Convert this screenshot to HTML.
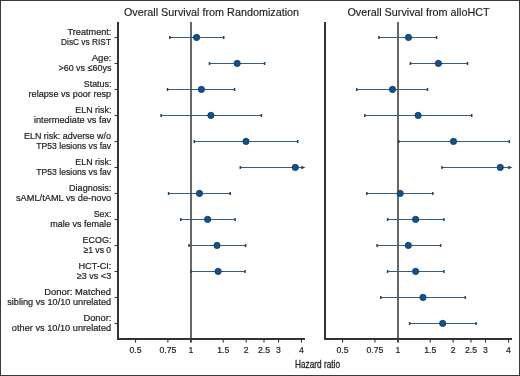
<!DOCTYPE html><html><head><meta charset="utf-8"><style>html,body{margin:0;padding:0;background:#fff;}svg{display:block;will-change:transform;} text{font-family:"Liberation Sans",sans-serif;fill:#1c1c1c;stroke:#1c1c1c;stroke-width:0.2px;}</style></head><body>
<svg width="520" height="376" viewBox="0 0 520 376">
<rect x="0.5" y="0.5" width="519" height="375" fill="#fff" stroke="#3a3a3a" stroke-width="1"/>
<text x="211.5" y="16" font-size="10.8" text-anchor="middle" style="stroke-width:0.15px">Overall Survival from Randomization</text>
<line x1="191.0" y1="22.0" x2="191.0" y2="342.6" stroke="#676767" stroke-width="2"/>
<path d="M118.0 22.0 V339.0 H305.0" fill="none" stroke="#333" stroke-width="2"/>
<line x1="114.5" y1="37.5" x2="118.0" y2="37.5" stroke="#333" stroke-width="1.1"/>
<line x1="114.5" y1="63.5" x2="118.0" y2="63.5" stroke="#333" stroke-width="1.1"/>
<line x1="114.5" y1="89.5" x2="118.0" y2="89.5" stroke="#333" stroke-width="1.1"/>
<line x1="114.5" y1="115.5" x2="118.0" y2="115.5" stroke="#333" stroke-width="1.1"/>
<line x1="114.5" y1="141.5" x2="118.0" y2="141.5" stroke="#333" stroke-width="1.1"/>
<line x1="114.5" y1="167.5" x2="118.0" y2="167.5" stroke="#333" stroke-width="1.1"/>
<line x1="114.5" y1="193.5" x2="118.0" y2="193.5" stroke="#333" stroke-width="1.1"/>
<line x1="114.5" y1="219.5" x2="118.0" y2="219.5" stroke="#333" stroke-width="1.1"/>
<line x1="114.5" y1="245.5" x2="118.0" y2="245.5" stroke="#333" stroke-width="1.1"/>
<line x1="114.5" y1="271.5" x2="118.0" y2="271.5" stroke="#333" stroke-width="1.1"/>
<line x1="114.5" y1="297.5" x2="118.0" y2="297.5" stroke="#333" stroke-width="1.1"/>
<line x1="114.5" y1="323.5" x2="118.0" y2="323.5" stroke="#333" stroke-width="1.1"/>
<line x1="135.54" y1="339.0" x2="135.54" y2="342.6" stroke="#333" stroke-width="1.1"/>
<text x="135.5" y="353.3" font-size="8.7" text-anchor="middle">0.5</text>
<line x1="167.89" y1="339.0" x2="167.89" y2="342.6" stroke="#333" stroke-width="1.1"/>
<text x="167.9" y="353.3" font-size="8.7" text-anchor="middle">0.75</text>
<line x1="190.85" y1="339.0" x2="190.85" y2="342.6" stroke="#333" stroke-width="1.1"/>
<text x="190.8" y="353.3" font-size="8.7" text-anchor="middle">1</text>
<line x1="223.21" y1="339.0" x2="223.21" y2="342.6" stroke="#333" stroke-width="1.1"/>
<text x="223.2" y="353.3" font-size="8.7" text-anchor="middle">1.5</text>
<line x1="246.16" y1="339.0" x2="246.16" y2="342.6" stroke="#333" stroke-width="1.1"/>
<text x="246.2" y="353.3" font-size="8.7" text-anchor="middle">2</text>
<line x1="263.97" y1="339.0" x2="263.97" y2="342.6" stroke="#333" stroke-width="1.1"/>
<text x="264.0" y="353.3" font-size="8.7" text-anchor="middle">2.5</text>
<line x1="278.52" y1="339.0" x2="278.52" y2="342.6" stroke="#333" stroke-width="1.1"/>
<text x="278.5" y="353.3" font-size="8.7" text-anchor="middle">3</text>
<line x1="301.48" y1="339.0" x2="301.48" y2="342.6" stroke="#333" stroke-width="1.1"/>
<text x="301.5" y="353.3" font-size="8.7" text-anchor="middle">4</text>
<line x1="169.8" y1="37.5" x2="223.7" y2="37.5" stroke="#335c86" stroke-width="1"/>
<line x1="169.8" y1="36.0" x2="169.8" y2="39.0" stroke="#2c3e50" stroke-width="1.5"/>
<line x1="223.7" y1="36.0" x2="223.7" y2="39.0" stroke="#2c3e50" stroke-width="1.5"/>
<circle cx="196.6" cy="37.4" r="3.15" fill="#14508a" stroke="#0c3962" stroke-width="0.8"/>
<line x1="209.5" y1="63.5" x2="264.6" y2="63.5" stroke="#335c86" stroke-width="1"/>
<line x1="209.5" y1="62.0" x2="209.5" y2="65.0" stroke="#2c3e50" stroke-width="1.5"/>
<line x1="264.6" y1="62.0" x2="264.6" y2="65.0" stroke="#2c3e50" stroke-width="1.5"/>
<circle cx="237.2" cy="63.4" r="3.15" fill="#14508a" stroke="#0c3962" stroke-width="0.8"/>
<line x1="167.5" y1="89.5" x2="234.6" y2="89.5" stroke="#335c86" stroke-width="1"/>
<line x1="167.5" y1="88.0" x2="167.5" y2="91.0" stroke="#2c3e50" stroke-width="1.5"/>
<line x1="234.6" y1="88.0" x2="234.6" y2="91.0" stroke="#2c3e50" stroke-width="1.5"/>
<circle cx="201.4" cy="89.4" r="3.15" fill="#14508a" stroke="#0c3962" stroke-width="0.8"/>
<line x1="161.1" y1="115.5" x2="261.4" y2="115.5" stroke="#335c86" stroke-width="1"/>
<line x1="161.1" y1="114.0" x2="161.1" y2="117.0" stroke="#2c3e50" stroke-width="1.5"/>
<line x1="261.4" y1="114.0" x2="261.4" y2="117.0" stroke="#2c3e50" stroke-width="1.5"/>
<circle cx="210.9" cy="115.4" r="3.15" fill="#14508a" stroke="#0c3962" stroke-width="0.8"/>
<line x1="194.3" y1="141.5" x2="297.7" y2="141.5" stroke="#335c86" stroke-width="1"/>
<line x1="194.3" y1="140.0" x2="194.3" y2="143.0" stroke="#2c3e50" stroke-width="1.5"/>
<line x1="297.7" y1="140.0" x2="297.7" y2="143.0" stroke="#2c3e50" stroke-width="1.5"/>
<circle cx="246.0" cy="141.4" r="3.15" fill="#14508a" stroke="#0c3962" stroke-width="0.8"/>
<line x1="240.3" y1="167.5" x2="301.4" y2="167.5" stroke="#335c86" stroke-width="1"/>
<path d="M301.2 165.7 L305.4 167.5 L301.2 169.3 Z" fill="#2c3e50"/>
<line x1="240.3" y1="166.0" x2="240.3" y2="169.0" stroke="#2c3e50" stroke-width="1.5"/>
<circle cx="295.3" cy="167.4" r="3.15" fill="#14508a" stroke="#0c3962" stroke-width="0.8"/>
<line x1="168.6" y1="193.5" x2="230.2" y2="193.5" stroke="#335c86" stroke-width="1"/>
<line x1="168.6" y1="192.0" x2="168.6" y2="195.0" stroke="#2c3e50" stroke-width="1.5"/>
<line x1="230.2" y1="192.0" x2="230.2" y2="195.0" stroke="#2c3e50" stroke-width="1.5"/>
<circle cx="199.5" cy="193.4" r="3.15" fill="#14508a" stroke="#0c3962" stroke-width="0.8"/>
<line x1="180.7" y1="219.5" x2="235.1" y2="219.5" stroke="#335c86" stroke-width="1"/>
<line x1="180.7" y1="218.0" x2="180.7" y2="221.0" stroke="#2c3e50" stroke-width="1.5"/>
<line x1="235.1" y1="218.0" x2="235.1" y2="221.0" stroke="#2c3e50" stroke-width="1.5"/>
<circle cx="207.6" cy="219.4" r="3.15" fill="#14508a" stroke="#0c3962" stroke-width="0.8"/>
<line x1="189.0" y1="245.5" x2="245.6" y2="245.5" stroke="#335c86" stroke-width="1"/>
<line x1="189.0" y1="244.0" x2="189.0" y2="247.0" stroke="#2c3e50" stroke-width="1.5"/>
<line x1="245.6" y1="244.0" x2="245.6" y2="247.0" stroke="#2c3e50" stroke-width="1.5"/>
<circle cx="217.0" cy="245.4" r="3.15" fill="#14508a" stroke="#0c3962" stroke-width="0.8"/>
<line x1="190.9" y1="271.5" x2="245.0" y2="271.5" stroke="#335c86" stroke-width="1"/>
<line x1="190.9" y1="270.0" x2="190.9" y2="273.0" stroke="#2c3e50" stroke-width="1.5"/>
<line x1="245.0" y1="270.0" x2="245.0" y2="273.0" stroke="#2c3e50" stroke-width="1.5"/>
<circle cx="218.1" cy="271.4" r="3.15" fill="#14508a" stroke="#0c3962" stroke-width="0.8"/>
<text x="418.5" y="16" font-size="10.8" text-anchor="middle" style="stroke-width:0.15px">Overall Survival from alloHCT</text>
<line x1="398.0" y1="22.0" x2="398.0" y2="342.6" stroke="#676767" stroke-width="2"/>
<path d="M325.0 22.0 V339.0 H512.0" fill="none" stroke="#333" stroke-width="2"/>
<line x1="342.54" y1="339.0" x2="342.54" y2="342.6" stroke="#333" stroke-width="1.1"/>
<text x="342.5" y="353.3" font-size="8.7" text-anchor="middle">0.5</text>
<line x1="374.89" y1="339.0" x2="374.89" y2="342.6" stroke="#333" stroke-width="1.1"/>
<text x="374.9" y="353.3" font-size="8.7" text-anchor="middle">0.75</text>
<line x1="397.85" y1="339.0" x2="397.85" y2="342.6" stroke="#333" stroke-width="1.1"/>
<text x="397.9" y="353.3" font-size="8.7" text-anchor="middle">1</text>
<line x1="430.21" y1="339.0" x2="430.21" y2="342.6" stroke="#333" stroke-width="1.1"/>
<text x="430.2" y="353.3" font-size="8.7" text-anchor="middle">1.5</text>
<line x1="453.16" y1="339.0" x2="453.16" y2="342.6" stroke="#333" stroke-width="1.1"/>
<text x="453.2" y="353.3" font-size="8.7" text-anchor="middle">2</text>
<line x1="470.97" y1="339.0" x2="470.97" y2="342.6" stroke="#333" stroke-width="1.1"/>
<text x="471.0" y="353.3" font-size="8.7" text-anchor="middle">2.5</text>
<line x1="485.52" y1="339.0" x2="485.52" y2="342.6" stroke="#333" stroke-width="1.1"/>
<text x="485.5" y="353.3" font-size="8.7" text-anchor="middle">3</text>
<line x1="508.48" y1="339.0" x2="508.48" y2="342.6" stroke="#333" stroke-width="1.1"/>
<text x="508.5" y="353.3" font-size="8.7" text-anchor="middle">4</text>
<line x1="378.9" y1="37.5" x2="436.5" y2="37.5" stroke="#335c86" stroke-width="1"/>
<line x1="378.9" y1="36.0" x2="378.9" y2="39.0" stroke="#2c3e50" stroke-width="1.5"/>
<line x1="436.5" y1="36.0" x2="436.5" y2="39.0" stroke="#2c3e50" stroke-width="1.5"/>
<circle cx="408.5" cy="37.4" r="3.15" fill="#14508a" stroke="#0c3962" stroke-width="0.8"/>
<line x1="410.4" y1="63.5" x2="467.5" y2="63.5" stroke="#335c86" stroke-width="1"/>
<line x1="410.4" y1="62.0" x2="410.4" y2="65.0" stroke="#2c3e50" stroke-width="1.5"/>
<line x1="467.5" y1="62.0" x2="467.5" y2="65.0" stroke="#2c3e50" stroke-width="1.5"/>
<circle cx="438.4" cy="63.4" r="3.15" fill="#14508a" stroke="#0c3962" stroke-width="0.8"/>
<line x1="356.7" y1="89.5" x2="427.5" y2="89.5" stroke="#335c86" stroke-width="1"/>
<line x1="356.7" y1="88.0" x2="356.7" y2="91.0" stroke="#2c3e50" stroke-width="1.5"/>
<line x1="427.5" y1="88.0" x2="427.5" y2="91.0" stroke="#2c3e50" stroke-width="1.5"/>
<circle cx="392.5" cy="89.4" r="3.15" fill="#14508a" stroke="#0c3962" stroke-width="0.8"/>
<line x1="364.8" y1="115.5" x2="471.7" y2="115.5" stroke="#335c86" stroke-width="1"/>
<line x1="364.8" y1="114.0" x2="364.8" y2="117.0" stroke="#2c3e50" stroke-width="1.5"/>
<line x1="471.7" y1="114.0" x2="471.7" y2="117.0" stroke="#2c3e50" stroke-width="1.5"/>
<circle cx="418.1" cy="115.4" r="3.15" fill="#14508a" stroke="#0c3962" stroke-width="0.8"/>
<line x1="398.8" y1="141.5" x2="509.3" y2="141.5" stroke="#335c86" stroke-width="1"/>
<line x1="398.8" y1="140.0" x2="398.8" y2="143.0" stroke="#2c3e50" stroke-width="1.5"/>
<line x1="509.3" y1="140.0" x2="509.3" y2="143.0" stroke="#2c3e50" stroke-width="1.5"/>
<circle cx="453.5" cy="141.4" r="3.15" fill="#14508a" stroke="#0c3962" stroke-width="0.8"/>
<line x1="441.9" y1="167.5" x2="508.4" y2="167.5" stroke="#335c86" stroke-width="1"/>
<path d="M508.2 165.7 L512.4 167.5 L508.2 169.3 Z" fill="#2c3e50"/>
<line x1="441.9" y1="166.0" x2="441.9" y2="169.0" stroke="#2c3e50" stroke-width="1.5"/>
<circle cx="500.3" cy="167.4" r="3.15" fill="#14508a" stroke="#0c3962" stroke-width="0.8"/>
<line x1="366.8" y1="193.5" x2="432.8" y2="193.5" stroke="#335c86" stroke-width="1"/>
<line x1="366.8" y1="192.0" x2="366.8" y2="195.0" stroke="#2c3e50" stroke-width="1.5"/>
<line x1="432.8" y1="192.0" x2="432.8" y2="195.0" stroke="#2c3e50" stroke-width="1.5"/>
<circle cx="400.2" cy="193.4" r="3.15" fill="#14508a" stroke="#0c3962" stroke-width="0.8"/>
<line x1="387.6" y1="219.5" x2="443.9" y2="219.5" stroke="#335c86" stroke-width="1"/>
<line x1="387.6" y1="218.0" x2="387.6" y2="221.0" stroke="#2c3e50" stroke-width="1.5"/>
<line x1="443.9" y1="218.0" x2="443.9" y2="221.0" stroke="#2c3e50" stroke-width="1.5"/>
<circle cx="415.6" cy="219.4" r="3.15" fill="#14508a" stroke="#0c3962" stroke-width="0.8"/>
<line x1="377.1" y1="245.5" x2="440.6" y2="245.5" stroke="#335c86" stroke-width="1"/>
<line x1="377.1" y1="244.0" x2="377.1" y2="247.0" stroke="#2c3e50" stroke-width="1.5"/>
<line x1="440.6" y1="244.0" x2="440.6" y2="247.0" stroke="#2c3e50" stroke-width="1.5"/>
<circle cx="408.3" cy="245.4" r="3.15" fill="#14508a" stroke="#0c3962" stroke-width="0.8"/>
<line x1="387.6" y1="271.5" x2="443.9" y2="271.5" stroke="#335c86" stroke-width="1"/>
<line x1="387.6" y1="270.0" x2="387.6" y2="273.0" stroke="#2c3e50" stroke-width="1.5"/>
<line x1="443.9" y1="270.0" x2="443.9" y2="273.0" stroke="#2c3e50" stroke-width="1.5"/>
<circle cx="415.6" cy="271.4" r="3.15" fill="#14508a" stroke="#0c3962" stroke-width="0.8"/>
<line x1="380.8" y1="297.5" x2="465.3" y2="297.5" stroke="#335c86" stroke-width="1"/>
<line x1="380.8" y1="296.0" x2="380.8" y2="299.0" stroke="#2c3e50" stroke-width="1.5"/>
<line x1="465.3" y1="296.0" x2="465.3" y2="299.0" stroke="#2c3e50" stroke-width="1.5"/>
<circle cx="423.0" cy="297.4" r="3.15" fill="#14508a" stroke="#0c3962" stroke-width="0.8"/>
<line x1="409.6" y1="323.5" x2="476.1" y2="323.5" stroke="#335c86" stroke-width="1"/>
<line x1="409.6" y1="322.0" x2="409.6" y2="325.0" stroke="#2c3e50" stroke-width="1.5"/>
<line x1="476.1" y1="322.0" x2="476.1" y2="325.0" stroke="#2c3e50" stroke-width="1.5"/>
<circle cx="442.7" cy="323.4" r="3.15" fill="#14508a" stroke="#0c3962" stroke-width="0.8"/>
<text x="111.39" y="34.60" font-size="9.4" text-anchor="end" textLength="43.89" lengthAdjust="spacingAndGlyphs" transform="translate(0 34.60) scale(1 1.000) translate(0 -34.60)">Treatment:</text>
<text x="110.98" y="45.40" font-size="9.4" text-anchor="end" textLength="49.95" lengthAdjust="spacingAndGlyphs" transform="translate(0 45.40) scale(1 1.000) translate(0 -45.40)">DisC vs RIST</text>
<text x="111.40" y="60.60" font-size="9.4" text-anchor="end" textLength="19.74" lengthAdjust="spacingAndGlyphs" transform="translate(0 60.60) scale(1 1.000) translate(0 -60.60)">Age:</text>
<text x="111.39" y="71.40" font-size="9.4" text-anchor="end" textLength="52.95" lengthAdjust="spacingAndGlyphs" transform="translate(0 71.40) scale(1 1.000) translate(0 -71.40)">&gt;60 vs ≤60ys</text>
<text x="111.39" y="86.60" font-size="9.4" text-anchor="end" textLength="27.64" lengthAdjust="spacingAndGlyphs" transform="translate(0 86.60) scale(1 1.000) translate(0 -86.60)">Status:</text>
<text x="111.19" y="97.40" font-size="9.4" text-anchor="end" textLength="82.62" lengthAdjust="spacingAndGlyphs" transform="translate(0 97.40) scale(1 1.000) translate(0 -97.40)">relapse vs poor resp</text>
<text x="111.39" y="112.60" font-size="9.4" text-anchor="end" textLength="36.07" lengthAdjust="spacingAndGlyphs" transform="translate(0 112.60) scale(1 1.000) translate(0 -112.60)">ELN risk:</text>
<text x="111.20" y="123.40" font-size="9.4" text-anchor="end" textLength="77.27" lengthAdjust="spacingAndGlyphs" transform="translate(0 123.40) scale(1 1.000) translate(0 -123.40)">intermediate vs fav</text>
<text x="110.99" y="138.60" font-size="9.4" text-anchor="end" textLength="87.00" lengthAdjust="spacingAndGlyphs" transform="translate(0 138.60) scale(1 1.000) translate(0 -138.60)">ELN risk: adverse w/o</text>
<text x="111.18" y="149.40" font-size="9.4" text-anchor="end" textLength="74.96" lengthAdjust="spacingAndGlyphs" transform="translate(0 149.40) scale(1 1.000) translate(0 -149.40)">TP53 lesions vs fav</text>
<text x="111.39" y="164.60" font-size="9.4" text-anchor="end" textLength="36.07" lengthAdjust="spacingAndGlyphs" transform="translate(0 164.60) scale(1 1.000) translate(0 -164.60)">ELN risk:</text>
<text x="111.18" y="175.40" font-size="9.4" text-anchor="end" textLength="74.96" lengthAdjust="spacingAndGlyphs" transform="translate(0 175.40) scale(1 1.000) translate(0 -175.40)">TP53 lesions vs fav</text>
<text x="111.39" y="190.60" font-size="9.4" text-anchor="end" textLength="42.36" lengthAdjust="spacingAndGlyphs" transform="translate(0 190.60) scale(1 1.000) translate(0 -190.60)">Diagnosis:</text>
<text x="111.20" y="201.40" font-size="9.4" text-anchor="end" textLength="95.20" lengthAdjust="spacingAndGlyphs" transform="translate(0 201.40) scale(1 1.000) translate(0 -201.40)">sAML/tAML vs de-novo</text>
<text x="111.39" y="216.60" font-size="9.4" text-anchor="end" textLength="17.76" lengthAdjust="spacingAndGlyphs" transform="translate(0 216.60) scale(1 1.000) translate(0 -216.60)">Sex:</text>
<text x="111.19" y="227.40" font-size="9.4" text-anchor="end" textLength="60.96" lengthAdjust="spacingAndGlyphs" transform="translate(0 227.40) scale(1 1.000) translate(0 -227.40)">male vs female</text>
<text x="111.39" y="242.60" font-size="9.4" text-anchor="end" textLength="28.88" lengthAdjust="spacingAndGlyphs" transform="translate(0 242.60) scale(1 1.000) translate(0 -242.60)">ECOG:</text>
<text x="111.18" y="253.40" font-size="9.4" text-anchor="end" textLength="27.72" lengthAdjust="spacingAndGlyphs" transform="translate(0 253.40) scale(1 1.000) translate(0 -253.40)">≥1 vs 0</text>
<text x="111.39" y="268.60" font-size="9.4" text-anchor="end" textLength="32.91" lengthAdjust="spacingAndGlyphs" transform="translate(0 268.60) scale(1 1.000) translate(0 -268.60)">HCT-CI:</text>
<text x="111.19" y="279.40" font-size="9.4" text-anchor="end" textLength="34.40" lengthAdjust="spacingAndGlyphs" transform="translate(0 279.40) scale(1 1.000) translate(0 -279.40)">≥3 vs &lt;3</text>
<text x="111.00" y="294.60" font-size="9.4" text-anchor="end" textLength="66.67" lengthAdjust="spacingAndGlyphs" transform="translate(0 294.60) scale(1 1.000) translate(0 -294.60)">Donor: Matched</text>
<text x="111.20" y="305.40" font-size="9.4" text-anchor="end" textLength="103.98" lengthAdjust="spacingAndGlyphs" transform="translate(0 305.40) scale(1 1.000) translate(0 -305.40)">sibling vs 10/10 unrelated</text>
<text x="111.40" y="320.60" font-size="9.4" text-anchor="end" textLength="27.91" lengthAdjust="spacingAndGlyphs" transform="translate(0 320.60) scale(1 1.000) translate(0 -320.60)">Donor:</text>
<text x="111.20" y="331.40" font-size="9.4" text-anchor="end" textLength="99.36" lengthAdjust="spacingAndGlyphs" transform="translate(0 331.40) scale(1 1.000) translate(0 -331.40)">other vs 10/10 unrelated</text>
<text x="295.0" y="367.9" font-size="10.3" textLength="45.0" lengthAdjust="spacingAndGlyphs" style="stroke:#2a2a2a;stroke-width:0.3">Hazard ratio</text>
</svg></body></html>
